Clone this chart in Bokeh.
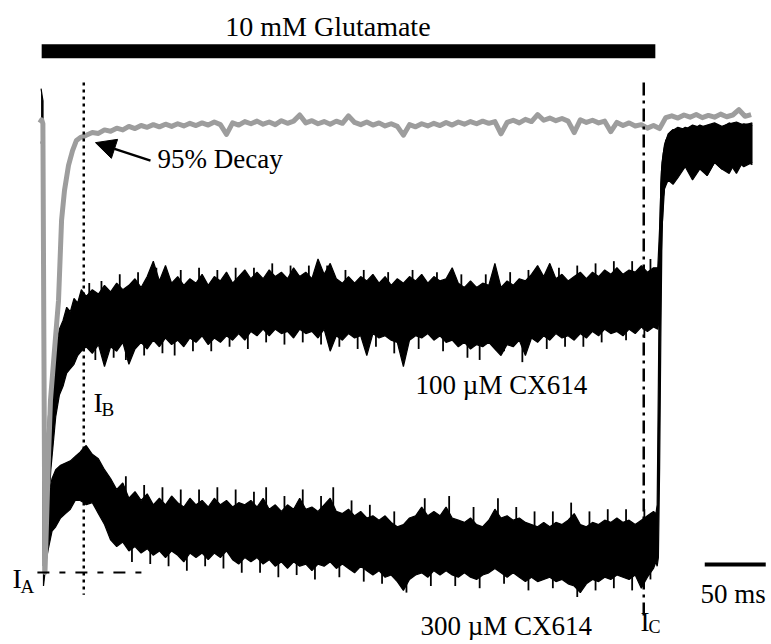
from bokeh.plotting import figure
from bokeh.models import Range1d, Arrow, NormalHead
from bokeh.core.properties import value
from bokeh.embed import file_html
from bokeh.resources import INLINE

# ---------------- data (time in ms, current in % of plateau scale) ----------------
T_STEADY = [35, 40, 45, 50, 55, 60, 65, 70, 75, 80, 85, 90, 95, 100, 105, 110, 115, 120, 125, 130,
            135, 140, 145, 150, 155, 160, 165, 170, 175, 180, 185, 190, 195, 200, 205, 210, 215, 220, 225, 230,
            235, 240, 245, 250, 255, 260, 265, 270, 275, 280, 285, 290, 295, 300, 305, 310, 315, 320, 325, 330,
            335, 340, 345, 350, 355, 360, 365, 370, 375, 380, 385, 390, 395, 400, 405, 410, 415, 420, 425, 430,
            435, 440, 445, 450, 455, 460, 465, 470, 475, 480, 485, 490, 495, 500]

I_A = -103.4            # peak current level

# 100 uM CX614 trace (noise envelope)
cx100_t_early = [-2.0, -1.0, -0.4, 0.0, 1, 2, 3, 4, 6, 8, 10, 13, 16, 19, 22, 25, 28, 31]
cx100_top_early = [6.8, 5.0, 4.0, -102, -98, -86, -75, -68, -62, -57, -53, -48, -46, -43, -44, -41, -42, -39]
cx100_bot_early = [-5.7, -4.0, -3.0, -103.4, -103.4, -102, -96, -89, -80, -74, -68, -63, -61, -58, -57, -56, -54, -53]
cx100_top = [-40.5, -39.0, -40.0, -38.0, -39.5, -37.5, -39.0, -38.0, -36.5, -38.5,
             -36.0, -32.5, -37.0, -33.5, -37.5, -36.0, -38.0, -36.5, -37.5, -35.5,
             -38.0, -36.0, -37.0, -35.0, -37.5, -36.0, -34.5, -36.5, -35.0, -36.5,
             -34.5, -36.0, -35.0, -36.5, -34.0, -36.0, -35.0, -36.5, -32.0, -35.5,
             -33.0, -36.5, -37.5, -36.0, -37.5, -36.0, -37.0, -35.5, -37.5, -36.0,
             -38.0, -36.5, -37.5, -36.0, -37.0, -35.5, -37.5, -36.0, -37.0, -36.5,
             -34.0, -37.5, -38.5, -37.0, -38.5, -37.5, -38.0, -33.0, -38.5, -37.0,
             -38.0, -36.5, -37.0, -35.5, -33.5, -36.0, -33.0, -36.5, -35.5, -37.0,
             -36.0, -35.0, -36.5, -35.0, -36.0, -34.5, -35.5, -34.0, -35.5, -34.5,
             -35.0, -33.5, -35.0, -34.0]
cx100_bot = [-52.0, -53.5, -51.5, -56.5, -52.0, -53.0, -51.0, -56.0, -52.5, -51.0,
             -52.5, -50.5, -52.0, -50.0, -51.5, -50.5, -52.0, -50.0, -51.0, -49.5,
             -51.5, -50.0, -51.0, -49.5, -50.5, -49.0, -50.5, -48.5, -49.5, -48.0,
             -49.5, -48.0, -49.0, -48.5, -50.0, -48.0, -49.0, -48.5, -50.0, -48.0,
             -53.0, -49.5, -50.5, -49.0, -50.0, -49.5, -54.0, -49.0, -50.0, -49.5,
             -50.5, -51.0, -56.5, -50.5, -49.5, -50.0, -49.0, -50.5, -49.5, -51.0,
             -50.5, -52.0, -51.0, -52.5, -51.5, -52.0, -51.0, -52.5, -54.0, -51.5,
             -52.0, -50.5, -54.0, -50.0, -51.0, -49.5, -50.5, -49.0, -50.0, -49.5,
             -50.5, -49.0, -50.0, -48.5, -49.5, -48.0, -49.0, -48.5, -49.5, -48.0,
             -49.0, -47.5, -48.5, -47.5]
cx100_t_late = [503.5, 505, 506.5, 508, 510, 514, 520, 526, 532, 538, 544, 550, 556, 562, 568, 574, 581]
cx100_top_late = [-34, -25, -12, -8, -5, -3, -2.0, -2.5, -1.5, -2.0, -1.5, -1.0, -1.8, -1.2, -0.8, -1.5, -1.0]
cx100_bot_late = [-48, -45, -30, -18, -14, -13, -12.5, -11.0, -12.0, -10.5, -13.0, -10.0, -11.5, -10.0, -12.5, -9.5, -10.5]
# single noise spikes of the 100 uM trace (time, tip)
cx100_spk_base = -44.0
cx100_up_t = [37.5, 47.5, 62.5, 77.5, 92.5, 112.5, 127.5, 142.5, 157.5, 172.5, 187.5, 202.5, 217.5, 232.5, 247.5,
              262.5, 282.5, 302.5, 322.5, 342.5, 362.5, 382.5, 397.5, 422.5, 437.5, 452.5, 467.5, 482.5, 497.5]
cx100_up_v = [-37.5, -37.0, -35.5, -35.0, -34.0, -34.5, -34.0, -34.5, -34.0, -34.0, -33.0, -33.5, -33.5, -33.5, -34.5,
              -34.5, -35.0, -34.5, -35.0, -35.5, -35.5, -35.0, -34.5, -34.0, -33.5, -33.0, -32.5, -32.5, -32.0]
cx100_dn_t = [42.5, 57.5, 67.5, 82.5, 97.5, 107.5, 122.5, 137.5, 152.5, 167.5, 182.5, 197.5, 212.5, 227.5, 242.5,
              257.5, 272.5, 287.5, 307.5, 327.5, 347.5, 357.5, 377.5, 392.5, 412.5, 427.5, 442.5, 457.5, 477.5, 492.5]
cx100_dn_v = [-55.0, -54.5, -55.0, -54.0, -53.5, -54.0, -53.0, -53.0, -52.0, -52.5, -51.0, -51.5, -51.0, -51.5, -52.0,
              -52.5, -52.0, -53.5, -52.5, -53.0, -54.5, -55.0, -53.0, -55.5, -52.5, -52.0, -52.0, -51.0, -50.5, -50.0]

# 300 uM CX614 trace (noise envelope)
cx300_t_early = [-0.4, 0.0, 1, 2, 4, 7, 10, 14, 18, 22, 26, 30, 33]
cx300_top_early = [-1.0, -102, -97, -91, -86, -82, -80, -79, -78.5, -78, -77, -76, -75]
cx300_bot_early = [-4.0, -106.5, -104, -101, -98, -94, -93, -91, -90, -89, -87, -87, -87.5]
cx300_top = [-74.5, -76.5, -77.5, -80.0, -82.0, -84.5, -83.0, -86.5, -85.0, -87.0,
             -85.5, -88.0, -86.5, -88.0, -86.0, -87.5, -88.5, -86.5, -88.0, -87.0,
             -88.5, -86.5, -88.0, -87.0, -88.5, -87.5, -88.0, -87.0, -88.5, -86.5,
             -89.0, -88.0, -89.5, -88.0, -89.0, -86.5, -89.0, -88.5, -89.5, -88.0,
             -86.5, -89.5, -90.0, -89.0, -90.5, -89.5, -91.0, -90.5, -91.5, -90.5,
             -92.0, -93.0, -92.5, -91.0, -90.5, -88.5, -90.5, -89.5, -90.5, -88.5,
             -91.0, -91.5, -92.0, -91.0, -92.5, -93.0, -91.5, -89.0, -91.0, -90.5,
             -91.5, -91.0, -92.0, -92.5, -93.0, -92.0, -93.0, -92.0, -92.5, -91.5,
             -90.0, -92.5, -93.0, -92.0, -92.5, -91.5, -92.0, -91.0, -92.0, -91.5,
             -92.5, -91.5, -90.5, -89.5]
cx300_bot = [-88.0, -87.5, -90.0, -92.5, -96.0, -97.5, -96.5, -98.5, -97.5, -99.0,
             -98.0, -99.5, -98.5, -100.0, -98.5, -99.5, -101.0, -99.0, -100.0, -99.0,
             -100.5, -99.0, -100.0, -98.5, -100.5, -101.5, -100.0, -101.0, -100.0, -101.5,
             -100.5, -102.0, -101.0, -102.5, -101.0, -102.0, -101.5, -103.0, -101.5, -102.0,
             -101.0, -102.5, -101.5, -102.5, -103.5, -102.0, -103.0, -104.0, -103.0, -104.5,
             -104.0, -105.5, -107.5, -105.0, -104.0, -103.5, -104.5, -103.0, -104.0, -103.0,
             -104.0, -104.5, -103.5, -104.5, -105.0, -104.0, -103.5, -102.5, -103.5, -104.5,
             -103.5, -104.5, -105.5, -104.5, -105.5, -105.0, -104.5, -105.5, -105.0, -106.0,
             -106.5, -108.0, -106.0, -105.0, -105.5, -104.5, -105.0, -104.0, -104.5, -105.0,
             -104.0, -107.0, -104.5, -102.5]
cx300_t_late = [502, 503, 504, 505, 506, 507, 509, 512, 516, 520, 526, 532, 538, 544, 550, 556, 562, 568, 574, 581]
cx300_top_late = [-90, -88, -60, -30, -15, -10, -6, -3.5, -2.5, -3.0, -2.0, -2.5, -1.5, -2.2, -1.5, -2.0, -1.0, -1.8, -1.2, -1.5]
cx300_bot_late = [-101, -102, -100, -80, -50, -25, -16, -14, -15, -13.5, -11.0, -14.0, -11.5, -13.0, -10.0, -11.5, -12.5, -9.5, -11.0, -10.0]
cx300_spk_base = -96.0
cx300_up_t = [67.5, 82.5, 97.5, 112.5, 127.5, 142.5, 157.5, 172.5, 182.5, 197.5, 212.5, 227.5, 237.5, 252.5,
              267.5, 287.5, 312.5, 332.5, 352.5, 372.5, 387.5, 402.5, 417.5, 432.5, 447.5, 462.5, 477.5, 492.5]
cx300_up_v = [-81.5, -83.5, -84.0, -84.5, -84.5, -84.0, -84.5, -85.0, -84.0, -86.0, -84.5, -86.0, -84.0, -87.0,
              -88.0, -89.5, -86.5, -86.0, -88.5, -86.5, -88.5, -89.5, -89.5, -87.5, -89.5, -89.0, -89.0, -89.0]
cx300_dn_t = [72.5, 87.5, 102.5, 117.5, 132.5, 147.5, 162.5, 177.5, 192.5, 207.5, 222.5, 242.5, 262.5,
              277.5, 297.5, 317.5, 337.5, 357.5, 377.5, 397.5, 417.5, 437.5, 452.5, 467.5, 482.5, 497.5]
cx300_dn_v = [-101.0, -101.5, -102.0, -103.0, -102.0, -102.5, -103.5, -103.5, -104.5, -104.0, -105.0, -104.5, -105.5,
              -106.0, -108.0, -106.5, -106.5, -107.0, -106.0, -107.5, -107.0, -109.0, -107.5, -107.0, -107.5, -105.0]

# control trace (grey)
ctrl_t_early = [-3, -1.5, -0.5, 0.3, 1.2, 1.6, 4.1, 5.7, 9.0, 12.3, 14.8, 17.2, 20.5, 23.8, 27.0, 30.3, 32.8]
ctrl_early = [-1.0, -0.3, -1.2, -50, -103.4, -100, -77, -64.2, -52.8, -41.5, -23.2, -16.4, -10.7, -7.3, -5.0, -4.3, -4.1]
ctrl_t_late = [505, 510, 515, 520, 525, 530, 535, 540, 545, 550, 555, 560, 565, 570, 575, 580]
ctrl = [-3.8, -3.2, -3.4, -2.6, -2.9, -2.2, -2.6, -1.8, -2.3, -1.6,
        -2.0, -1.4, -1.9, -1.3, -1.8, -1.2, -1.7, -1.1, -1.6, -1.0,
        -1.5, -0.8, -1.4, -3.6, -1.0, -1.5, -0.7, -1.2, -0.6, -1.3,
        -0.8, -1.4, -0.5, -1.1, -0.6, 0.8, -1.0, -0.5, -1.2, -0.7,
        -1.3, -0.6, -1.1, 0.6, -0.9, -1.4, -0.8, -1.5, -1.0, -1.7,
        -1.2, -1.8, -3.8, -1.4, -1.9, -1.2, -1.7, -1.1, -1.6, -0.9,
        -1.5, -0.8, -1.3, -0.7, -1.2, -0.6, -1.1, -0.7, -3.5, -0.9,
        -0.4, -1.0, -0.2, -0.7, 0.9, -0.4, 0.1, -0.5, 0.0, -0.6,
        -3.2, -0.3, -0.9, -0.4, -1.0, -0.6, -3.0, -0.9, -1.6, -1.0,
        -1.7, -1.4, -2.2, -1.6]
ctrl_late = [-2.3, 0.2, 0.6, 0.1, 0.8, 0.3, 0.9, 0.2, 0.7, 0.3, 1.0, 0.4, 0.8, 2.0, 0.5, 0.9]

# markers / annotations (ms, %)
glut_on, glut_off = -1.5, 501.5
t_decay95 = 33          # 95 % decay time
t_ic = 492              # time of I_C measurement
scale_ms = 50

# ---------------- figure ----------------
p = figure(width=766, height=640, x_range=Range1d(-35.25, 592.62), y_range=Range1d(-118.91, 26.88),
           output_backend="svg", toolbar_location=None, x_axis_type=None, y_axis_type=None,
           min_border=0, min_border_left=0, min_border_right=0, min_border_top=0, min_border_bottom=0)
p.grid.visible = False
p.outline_line_color = None
p.background_fill_color = "white"
p.border_fill_color = "white"

def trace(t0, top0, bot0, ts, top, bot, t1, top1, bot1, base, up_t, up_v, dn_t, dn_v):
    x = list(t0) + list(ts) + list(t1)
    hi = list(top0) + list(top) + list(top1)
    lo = list(bot0) + list(bot) + list(bot1)
    p.varea(x=x, y1=lo, y2=hi, fill_color="black")
    p.line(x, hi, line_color="black", line_width=1.2)
    p.line(x, lo, line_color="black", line_width=1.2)
    p.segment(x0=up_t, y0=[base] * len(up_t), x1=up_t, y1=up_v, line_color="black", line_width=1.8)
    p.segment(x0=dn_t, y0=[base] * len(dn_t), x1=dn_t, y1=dn_v, line_color="black", line_width=1.8)

trace(cx300_t_early, cx300_top_early, cx300_bot_early, T_STEADY, cx300_top, cx300_bot,
      cx300_t_late, cx300_top_late, cx300_bot_late,
      cx300_spk_base, cx300_up_t, cx300_up_v, cx300_dn_t, cx300_dn_v)
trace(cx100_t_early, cx100_top_early, cx100_bot_early, T_STEADY, cx100_top, cx100_bot,
      cx100_t_late, cx100_top_late, cx100_bot_late,
      cx100_spk_base, cx100_up_t, cx100_up_v, cx100_dn_t, cx100_dn_v)

ctrl_x = list(ctrl_t_early) + list(T_STEADY) + list(ctrl_t_late)
ctrl_y = list(ctrl_early) + list(ctrl) + list(ctrl_late)
p.line(ctrl_x, ctrl_y, line_color="#9d9d9d", line_width=5, line_join="round")

# glutamate application bar
p.quad(left=[glut_on], right=[glut_off], bottom=[13.7], top=[16.9], fill_color="black", line_color=None)

# dotted 95% decay line, dash-dot I_C line, I_A dashed line
p.line([t_decay95, t_decay95], [8.2, -108.5], line_color="black", line_width=2.5, line_dash="3 4")
p.line([t_ic, t_ic], [8.2, -113.5], line_color="black", line_width=2.5, line_dash="13 5 3 5")
p.line([-5, 83.6], [I_A, I_A], line_color="black", line_width=2, line_dash="12 10 6 10")

# scale bar
p.line([542, 542 + scale_ms], [-101.6, -101.6], line_color="black", line_width=4)

# arrow to the 95% decay point
p.add_layout(Arrow(end=NormalHead(size=20, fill_color="black", line_color="black"),
                   x_start=87.7, y_start=-9.6, x_end=42.6, y_end=-5.5,
                   line_color="black", line_width=2.5))

serif = value("Liberation Serif")

def label(x, y, txt, size):
    p.text(x=[x], y=[y], text=[txt], text_font=serif, text_font_size=value(size),
           text_baseline="alphabetic", text_align="left", text_color="black")

label(149, 21.0, "10 mM Glutamate", "28px")
label(93.4, -9.3, "95% Decay", "27px")
label(305, -60.6, "100 µM CX614", "27px")
label(309, -115.6, "300 µM CX614", "27px")
label(538.5, -108.3, "50 ms", "27px")
label(-25.4, -104.8, "I", "28px")
label(-18.9, -106.6, "A", "19px")
label(41.0, -64.7, "I", "28px")
label(47.5, -66.3, "B", "19px")
label(489.3, -114.7, "I", "27px")
label(495.9, -115.9, "C", "18px")

open("out.html", "w").write(file_html(p, INLINE))
